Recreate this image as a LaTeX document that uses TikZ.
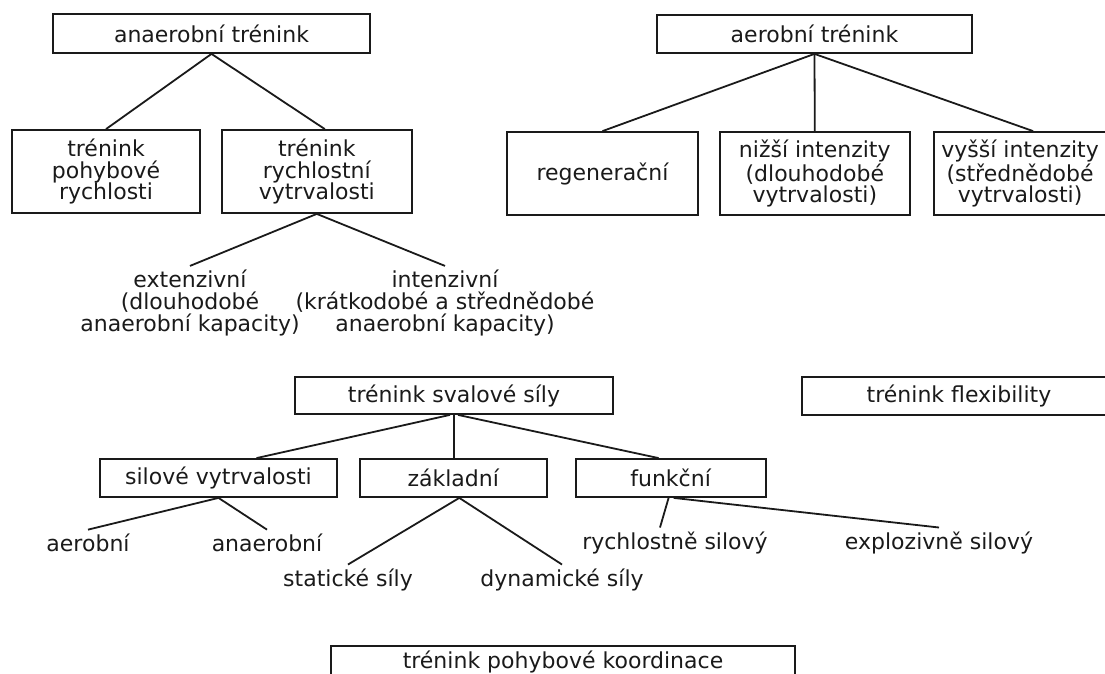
\documentclass[tikz,border=0pt]{standalone}
\usepackage{fontspec}
\setmainfont{DejaVu Sans}
\usetikzlibrary{positioning,calc}
\definecolor{InkBlack}{HTML}{1A1A1A}

\begin{document}
\begin{tikzpicture}[
  x=0.5pt,y=-0.5pt,
  box/.style={draw=InkBlack,line width=0.9pt,align=center,inner sep=0pt,text=InkBlack,font=\fontsize{11}{10.8}\selectfont},
  leaf/.style={align=center,inner sep=2pt,text=InkBlack,font=\fontsize{11}{10.8}\selectfont},
  link/.style={line width=0.9pt,InkBlack},
]
\useasboundingbox (0,0) rectangle (1105,674);
% anaerobni cast
\node[box,minimum width=158.5pt,minimum height=19.5pt] (anaer) at (211.5,33.5) {anaerobní trénink};
\node[box,minimum width=94pt,minimum height=41.5pt] (pohyb) at (106,171.5) {trénink\\pohybové\\rychlosti};
\node[box,minimum width=95pt,minimum height=41.5pt,right=10pt of pohyb] (rychl) {trénink\\rychlostní\\vytrvalosti};
\node[leaf] (ext) at (190,303) {extenzivní\\(dlouhodobé\\anaerobní kapacity)};
\node[leaf] (int) at (445,303) {intenzivní\\(krátkodobé a střednědobé\\anaerobní kapacity)};
\draw[link] (anaer.south) -- (pohyb.north);
\draw[link] (anaer.south) -- ($(rychl.north)+(8,0)$);
\draw[link] (rychl.south) -- (ext.north);
\draw[link] (rychl.south) -- (int.north);
% aerobni cast
\node[box,minimum width=157.5pt,minimum height=19pt] (aer) at (814.5,34) {aerobní trénink};
\node[box,minimum width=95.5pt,minimum height=41.5pt] (regen) at (602.5,173.5) {regenerační};
\node[box,minimum width=95pt,minimum height=41.5pt,right=10pt of regen] (nizsi) {nižší intenzity\\(dlouhodobé\\vytrvalosti)};
\node[box,minimum width=86.5pt,minimum height=41.5pt,right=11pt of nizsi] (vyssi) {vyšší intenzity\\(střednědobé\\vytrvalosti)};
\draw[link] (aer.south) -- (regen.north);
\draw[link] (aer.south) -- (nizsi.north);
\draw[link] (aer.south) -- ($(vyssi.north)+(13,0)$);
% svalova sila
\node[box,minimum width=159pt,minimum height=18.5pt] (sval) at (454,395.5) {trénink svalové síly};
\node[box,minimum width=118.5pt,minimum height=19pt] (silove) at (218.5,478) {silové vytrvalosti};
\node[box,minimum width=93.5pt,minimum height=19pt,right=10.5pt of silove] (zakl) {základní};
\node[box,minimum width=95pt,minimum height=19pt,right=13.5pt of zakl] (funk) {funkční};
\node[leaf] (aerob) at (88,543) {aerobní};
\node[leaf] (anaerob) at (267,543) {anaerobní};
\node[leaf] (stat) at (348,580) {statické síly};
\node[leaf] (dyn) at (562,580) {dynamické síly};
\node[leaf] (rsil) at (675,543) {rychlostně silový};
\node[leaf] (esil) at (939,543) {explozivně silový};
\draw[link] ($(sval.south)+(-4,0)$) -- ($(silove.north)+(38,0)$);
\draw[link] (sval.south) -- (sval.south |- zakl.north);
\draw[link] ($(sval.south)+(4,0)$) -- ($(funk.north)+(-12,0)$);
\draw[link] (silove.south) -- (aerob.north);
\draw[link] (silove.south) -- (anaerob.north);
\draw[link] ($(zakl.south)+(6,0)$) -- (stat.north);
\draw[link] ($(zakl.south)+(6,0)$) -- (dyn.north);
\draw[link] ($(funk.south)+(-2,0)$) -- ($(rsil.north)+(-15,0)$);
\draw[link] ($(funk.south)+(3,0)$) -- (esil.north);
% ostatni
\node[box,minimum width=157pt,minimum height=19pt] (flex) at (959,396) {trénink flexibility};
\node[box,minimum width=232pt,minimum height=16pt] (koord) at (563,662) {trénink pohybové koordinace};
\end{tikzpicture}
\end{document}
